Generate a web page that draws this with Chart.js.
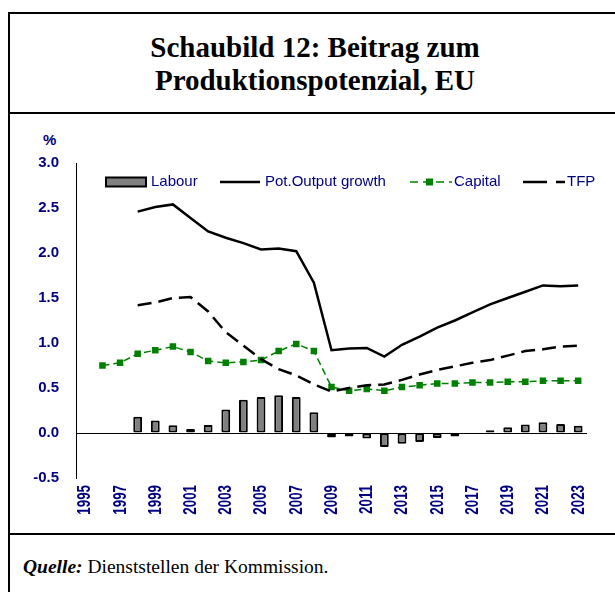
<!DOCTYPE html>
<html>
<head>
<meta charset="utf-8">
<script src="https://cdn.jsdelivr.net/npm/chart.js@4/dist/chart.umd.min.js"></script>
<style>
  html, body { margin: 0; padding: 0; background: #fff; }
  body { width: 615px; height: 592px; position: relative; overflow: hidden; }
  .frame { position: absolute; left: 8px; top: 12px; width: 700px; height: 700px;
    border-left: 2px solid #000; border-top: 2px solid #000; }
  .rule { position: absolute; left: 8px; width: 700px; height: 2px; background: #000; }
  .title { position: absolute; left: 10px; top: 31px; width: 610px; text-align: center;
    font: bold 29px "Liberation Serif", "Times New Roman", serif; line-height: 33px; color: #000; }
  .source { position: absolute; left: 23px; top: 555px; white-space: nowrap;
    font: 19.5px "Liberation Serif", "Times New Roman", serif; line-height: 23px; color: #000; }
  .unit { position: absolute; left: 43px; top: 132px; font: bold 15px "Liberation Sans", Arial, sans-serif;
    line-height: 16px; color: #000080; }
  #chart { position: absolute; left: 10px; top: 115px; }
</style>
</head>
<body>
<div class="frame"></div>
<div class="rule" style="top:112px"></div>
<div class="rule" style="top:533px"></div>
<div class="title">Schaubild 12: Beitrag zum<br>Produktionspotenzial, EU</div>
<div class="unit">%</div>
<canvas id="chart" width="605" height="418"></canvas>
<div class="source"><b><i>Quelle:</i></b> Dienststellen der Kommission.</div>
<script>
const years = ['1995', '1996', '1997', '1998', '1999', '2000', '2001', '2002', '2003', '2004',
  '2005', '2006', '2007', '2008', '2009', '2010', '2011', '2012', '2013', '2014',
  '2015', '2016', '2017', '2018', '2019', '2020', '2021', '2022', '2023'];

const labour = [null, null, null, 0.18, 0.14, 0.085, 0.045, 0.09, 0.26, 0.37,
  0.40, 0.42, 0.40, 0.23, -0.05, -0.04, -0.06, -0.155, -0.12, -0.10,
  -0.055, -0.04, -0.01, 0.03, 0.065, 0.095, 0.12, 0.10, 0.08];

const potOutput = [null, null, null, 2.46, 2.51, 2.54, 2.39, 2.24, 2.17, 2.11,
  2.04, 2.05, 2.02, 1.67, 0.92, 0.94, 0.945, 0.85, 0.98, 1.07,
  1.17, 1.25, 1.34, 1.43, 1.50, 1.57, 1.64, 1.63, 1.64];

const capital = [null, 0.75, 0.78, 0.88, 0.92, 0.96, 0.90, 0.80, 0.78, 0.79,
  0.81, 0.91, 0.99, 0.91, 0.51, 0.47, 0.49, 0.47, 0.51, 0.53,
  0.55, 0.55, 0.56, 0.56, 0.57, 0.57, 0.58, 0.58, 0.58];

const tfp = [null, null, null, 1.42, 1.45, 1.50, 1.51, 1.35, 1.12, 0.97,
  0.82, 0.71, 0.64, 0.54, 0.46, 0.50, 0.53, 0.54, 0.59, 0.65,
  0.70, 0.74, 0.78, 0.81, 0.86, 0.91, 0.93, 0.96, 0.97];

const yTicks = [-0.5, 0.0, 0.5, 1.0, 1.5, 2.0, 2.5, 3.0];
const seriesNames = ['Labour', 'Pot.Output growth', 'Capital', 'TFP'];

const NAVY = '#000080';
const GREEN = '#008000';
const SANS = '"Liberation Sans", Arial, sans-serif';

// x labels drawn narrow and tall like the original, legend drawn by hand
const customDraw = {
  id: 'customDraw',
  afterDraw(chart) {
    const { ctx, chartArea, scales } = chart;
    ctx.save();
    ctx.fillStyle = NAVY;
    ctx.font = `bold 18px ${SANS}`;
    ctx.textAlign = 'right';
    ctx.textBaseline = 'middle';
    years.forEach((year, i) => {
      if (Number(year) % 2 === 0) return;
      const px = scales.x.getPixelForValue(i);
      ctx.save();
      ctx.translate(px + 0.5, chartArea.bottom + 7);
      ctx.rotate(-Math.PI / 2);
      ctx.scale(0.74, 1);
      ctx.fillText(year, 0, 0);
      ctx.restore();
    });
    ctx.restore();

    // legend
    const ly = 67;
    ctx.save();
    ctx.font = `15px ${SANS}`;
    ctx.fillStyle = NAVY;
    ctx.textBaseline = 'middle';
    ctx.textAlign = 'left';

    ctx.fillStyle = '#808080';
    ctx.strokeStyle = '#000';
    ctx.lineWidth = 2;
    ctx.fillRect(96, ly - 4.5, 40, 9);
    ctx.strokeRect(96, ly - 4.5, 40, 9);
    ctx.fillStyle = NAVY;
    ctx.fillText(seriesNames[0], 141, ly);

    ctx.beginPath();
    ctx.moveTo(210, ly);
    ctx.lineTo(250, ly);
    ctx.lineWidth = 2.5;
    ctx.strokeStyle = '#000';
    ctx.stroke();
    ctx.fillText(seriesNames[1], 255, ly);

    ctx.beginPath();
    ctx.setLineDash([8, 5]);
    ctx.moveTo(400, ly);
    ctx.lineTo(442, ly);
    ctx.lineWidth = 1.5;
    ctx.strokeStyle = GREEN;
    ctx.stroke();
    ctx.setLineDash([]);
    ctx.fillStyle = GREEN;
    ctx.fillRect(416, ly - 3.5, 7, 7);
    ctx.fillStyle = NAVY;
    ctx.fillText(seriesNames[2], 444, ly);

    ctx.beginPath();
    ctx.setLineDash([24, 9]);
    ctx.moveTo(513, ly);
    ctx.lineTo(555, ly);
    ctx.lineWidth = 2.5;
    ctx.strokeStyle = '#000';
    ctx.stroke();
    ctx.setLineDash([]);
    ctx.fillText(seriesNames[3], 557, ly);
    ctx.restore();
  }
};

new Chart(document.getElementById('chart'), {
  type: 'bar',
  data: {
    labels: years,
    datasets: [
      {
        type: 'bar',
        label: seriesNames[0],
        data: labour,
        backgroundColor: '#808080',
        borderColor: '#000',
        borderWidth: 2,
        borderSkipped: false,
        borderRadius: 1,
        categoryPercentage: 1,
        barPercentage: 0.5,
        order: 4
      },
      {
        type: 'line',
        label: seriesNames[1],
        data: potOutput,
        borderColor: '#000',
        borderWidth: 2.5,
        pointRadius: 0,
        tension: 0,
        order: 1
      },
      {
        type: 'line',
        label: seriesNames[2],
        data: capital,
        borderColor: GREEN,
        backgroundColor: GREEN,
        borderWidth: 1.5,
        borderDash: [7, 4],
        pointStyle: 'rect',
        pointRadius: 4.6,
        pointBorderWidth: 0,
        tension: 0,
        order: 3
      },
      {
        type: 'line',
        label: seriesNames[3],
        data: tfp,
        borderColor: '#000',
        borderWidth: 2.5,
        borderDash: [14, 7],
        pointRadius: 0,
        tension: 0,
        order: 2
      }
    ]
  },
  options: {
    responsive: false,
    devicePixelRatio: 1,
    animation: false,
    layout: { padding: { top: 48, right: 28, left: 0, bottom: 0 } },
    plugins: {
      legend: { display: false },
      tooltip: { enabled: false }
    },
    scales: {
      x: {
        grid: { display: false, drawTicks: false },
        border: { display: false },
        ticks: { display: false },
        afterFit: (scale) => { scale.height = 55; }
      },
      y: {
        min: yTicks[0],
        max: yTicks[yTicks.length - 1],
        afterBuildTicks: (scale) => { scale.ticks = yTicks.map((v) => ({ value: v })); },
        grid: {
          drawTicks: false,
          color: (c) => (c.tick && c.tick.value === 0 ? '#000' : 'rgba(0,0,0,0)'),
          lineWidth: 1
        },
        border: { display: true, color: '#000', width: 1 },
        ticks: {
          color: NAVY,
          padding: 17,
          font: { family: SANS, size: 15, weight: 'bold' },
          callback: (v) => Number(v).toFixed(1)
        },
        afterFit: (scale) => { scale.width = 66; }
      }
    }
  },
  plugins: [customDraw]
});
</script>
</body>
</html>
